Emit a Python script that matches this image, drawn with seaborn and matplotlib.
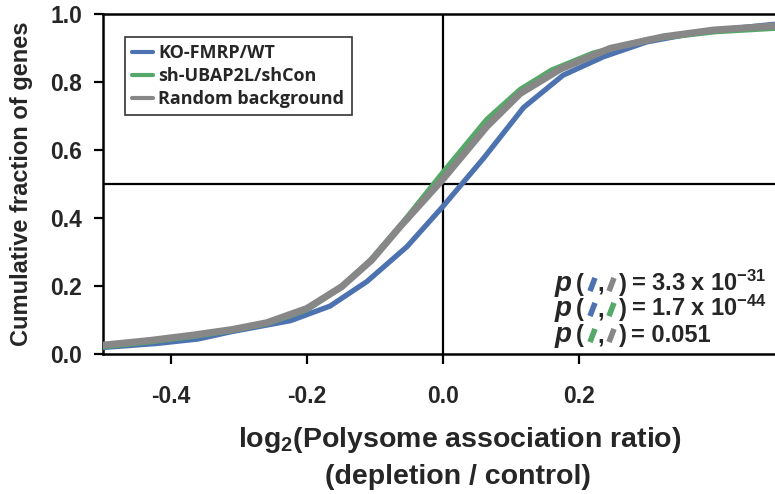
import matplotlib
matplotlib.use("Agg")
import matplotlib.pyplot as plt
import seaborn as sns
from matplotlib.lines import Line2D
from matplotlib.path import Path
from matplotlib.markers import MarkerStyle

# Cumulative distributions of log2 polysome association ratios
series_names = ["KO-FMRP/WT", "sh-UBAP2L/shCon", "Random background"]

ko_x = [-0.5, -0.42, -0.36, -0.31, -0.224, -0.166, -0.112, -0.053, 0.0,
        0.059, 0.118, 0.176, 0.235, 0.299, 0.38, 0.487]
ko_y = [0.019, 0.031, 0.044, 0.066, 0.098, 0.141, 0.213, 0.316, 0.435,
        0.575, 0.725, 0.82, 0.874, 0.918, 0.948, 0.970]

sh_x = [-0.5, -0.43, -0.366, -0.31, -0.259, -0.2, -0.149, -0.105, -0.06,
        0.0, 0.064, 0.113, 0.159, 0.22, 0.3, 0.4, 0.487]
sh_y = [0.021, 0.036, 0.052, 0.069, 0.089, 0.130, 0.196, 0.280, 0.385,
        0.535, 0.690, 0.778, 0.835, 0.885, 0.925, 0.948, 0.958]

bg_x = [-0.5, -0.43, -0.366, -0.31, -0.259, -0.2, -0.149, -0.105, -0.063,
        0.0, 0.064, 0.113, 0.172, 0.245, 0.323, 0.397, 0.487]
bg_y = [0.026, 0.040, 0.056, 0.072, 0.092, 0.134, 0.198, 0.276, 0.375,
        0.515, 0.669, 0.766, 0.838, 0.899, 0.933, 0.953, 0.965]

x_ticks = [-0.4, -0.2, 0.0, 0.2]
x_tick_labels = ["-0.4", "-0.2", "0.0", "0.2"]
y_ticks = [0.0, 0.2, 0.4, 0.6, 0.8, 1.0]
y_tick_labels = ["0.0", "0.2", "0.4", "0.6", "0.8", "1.0"]

# pairwise test results: (first series, second series, p-value text)
p_results = [
    (0, 2, r"= 3.3 x 10$^{\mathbf{-31}}$"),
    (0, 1, r"= 1.7 x 10$^{\mathbf{-44}}$"),
    (1, 2, r"= 0.051"),
]

colors = ["#4C72B0", "#55A868", "#878787"]
widths = [3.8, 3.8, 5.0]

sns.set_style("ticks")
plt.rcParams["font.family"] = ["Liberation Sans", "DejaVu Sans"]
plt.rcParams["font.weight"] = "bold"
plt.rcParams["mathtext.fontset"] = "custom"
plt.rcParams["mathtext.rm"] = "Liberation Sans"
plt.rcParams["mathtext.bf"] = "Liberation Sans:bold"
plt.rcParams["mathtext.it"] = "Liberation Sans:italic:bold"

W, H = 775, 494
fig = plt.figure(figsize=(W / 100, H / 100), dpi=100)
ax = fig.add_axes([102.5 / W, 140 / H, 672.5 / W, 340 / H])


def fpos(x, y):
    """pixel position -> figure fraction"""
    return x / W, 1 - y / H


ax.axhline(0.5, color="black", lw=1.6, zorder=1)
ax.axvline(0.0, color="black", lw=1.6, zorder=1)

for name, xs, ys, c, lw in zip(series_names, [ko_x, sh_x, bg_x],
                               [ko_y, sh_y, bg_y], colors, widths):
    sns.lineplot(x=xs, y=ys, ax=ax, color=c, linewidth=lw, estimator=None,
                 sort=False, legend=False, zorder=3,
                 solid_joinstyle="miter", solid_capstyle="butt")

ax.set_xlim(-0.5, 0.487)
ax.set_ylim(0.0, 1.0)
ax.set_xticks(x_ticks)
ax.set_xticklabels(x_tick_labels, fontsize=16.5, fontweight="bold")
ax.set_yticks(y_ticks)
ax.set_yticklabels(y_tick_labels, fontsize=16.5, fontweight="bold")
ax.tick_params(axis="x", length=7.5, width=1.6, pad=15, color="black")
ax.tick_params(axis="y", length=6.5, width=1.6, pad=8, color="black")
for side in ["left", "bottom", "top"]:
    ax.spines[side].set_linewidth(1.8)
    ax.spines[side].set_color("black")
ax.spines["right"].set_visible(False)
ax.set_xlabel("")
ax.set_ylabel("")

# legend
handles = [Line2D([0], [0], color=c, lw=3.0) for c in colors]
leg = ax.legend(handles, series_names, loc="upper left",
                bbox_to_anchor=(0.0335, 0.933), borderaxespad=0,
                frameon=True, fancybox=False, handlelength=1.15,
                handletextpad=0.3, labelspacing=0.28, borderpad=0.4,
                prop={"family": "Open Sans", "weight": "bold", "size": 13})
leg.get_frame().set_edgecolor("black")
leg.get_frame().set_linewidth(1.2)

# axis titles
fig.text(*fpos(22, 184), "Cumulative fraction of genes", rotation=90,
         ha="center", va="center", fontsize=17, fontweight="bold")
fig.text(*fpos(459.5, 446.7), r"log$_{\mathbf{2}}$(Polysome association ratio)",
         ha="center", va="baseline", fontsize=20.5, fontweight="bold")
fig.text(*fpos(458, 484), "(depletion / control)",
         ha="center", va="baseline", fontsize=20.5, fontweight="bold")

# p-value annotations with coloured pair keys
dash = MarkerStyle(Path([(-0.38, -1.0), (0.38, 1.0)]), capstyle="butt")
baselines = [291, 316, 342]
tsize = 17
for (a, b, txt), yb in zip(p_results, baselines):
    fig.text(*fpos(555, yb), "p", fontsize=tsize + 3, fontweight="bold",
             style="italic", ha="left", va="baseline")
    fig.text(*fpos(576, yb), "(", fontsize=tsize, fontweight="bold",
             ha="left", va="baseline")
    for xk, idx in [(592, a), (611, b)]:
        fig.add_artist(Line2D([xk / W], [1 - (yb - 7) / H],
                              transform=fig.transFigure, marker=dash,
                              markersize=9.5, markeredgewidth=4.0,
                              markeredgecolor=colors[idx], linestyle="none"))
    fig.text(*fpos(601, yb), ",", fontsize=tsize, fontweight="bold",
             ha="center", va="baseline")
    fig.text(*fpos(619, yb), ")", fontsize=tsize, fontweight="bold",
             ha="left", va="baseline")
    fig.text(*fpos(631, yb), txt, fontsize=tsize, fontweight="bold",
             ha="left", va="baseline")

fig.savefig("out.png", dpi=100)
